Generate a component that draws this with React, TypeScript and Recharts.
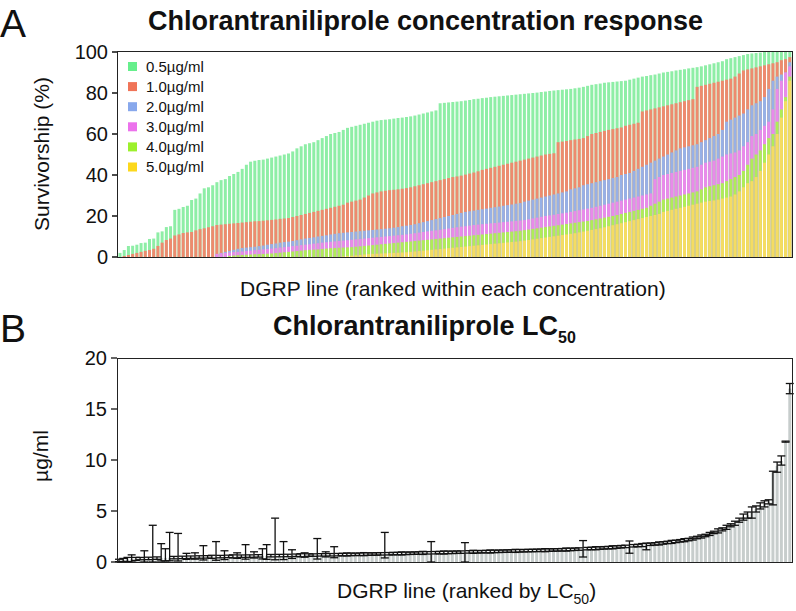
import React from 'react';
import { BarChart, Bar, XAxis, YAxis, ErrorBar } from 'recharts';

const FONT = '"Liberation Sans", Arial, Helvetica, sans-serif';

// DGRP lines, ranked 1..160
const lineRank = Array.from({ length: 160 }, (_, i) => i + 1);

// Panel A: survivorship (%) per concentration, each ranked on its own
const conc05 = [
  2, 3.4, 5.4, 5.5, 6, 6.8, 7, 8.8, 9, 12,
  12.5, 14.6, 15, 23, 23.5, 24.4, 25, 27.8, 28.5, 31,
  33.5, 34, 35, 36.5, 37.5, 38, 39.5, 40.5, 41.5, 43,
  45, 46.5, 47, 47.3, 47.5, 48, 48.5, 49, 49.5, 50,
  50.5, 51.5, 53, 54, 55, 55.5, 56, 57, 58, 59,
  60, 60.5, 61, 62, 63, 63.5, 64, 64.5, 65, 65.5,
  66, 66.5, 66.8, 67, 67.2, 67.5, 67.8, 68, 68.3, 68.6,
  69, 69.5, 70, 70.5, 71, 71.5, 75, 75.2, 75.4, 75.6,
  75.8, 76, 76.3, 76.6, 77, 77.2, 77.5, 77.7, 78, 78.2,
  78.4, 78.6, 78.8, 79, 79.2, 79.4, 79.6, 79.8, 80, 80.2,
  80.5, 80.7, 81, 81.2, 81.4, 81.6, 81.8, 82, 82.3, 82.6,
  83, 83.5, 84, 84.3, 84.6, 85, 85.2, 85.4, 85.6, 85.8,
  86, 86.5, 87, 87.5, 88, 88.3, 88.7, 89, 89.5, 90,
  90.3, 90.6, 91, 91.3, 91.6, 92, 92.3, 92.6, 93, 93.5,
  94, 94.5, 95, 95.5, 96.5, 97, 97.5, 98, 98.5, 99,
  99.3, 99.5, 99.7, 100, 100, 100, 100, 100, 100, 100,
];
const conc10 = [
  0, 0.5, 1, 1.5, 2, 2.5, 3, 3.4, 4, 5.4,
  7, 8.3, 9, 10.5, 11, 11.7, 12, 12.2, 13, 13.6,
  14, 14.5, 15, 15.6, 15.8, 16, 16.2, 16.4, 16.6, 16.8,
  17, 17.2, 17.4, 17.5, 17.7, 17.9, 18.1, 18.3, 18.6, 18.8,
  19, 19.5, 20, 20.5, 21, 21.5, 22, 22.5, 23, 23.5,
  24, 24.5, 25, 25.5, 26.5, 27, 27.5, 28, 29, 30,
  31, 31.5, 32, 32.3, 32.6, 32.8, 33, 33.3, 33.6, 34,
  34.5, 35, 35.5, 36, 36.5, 37, 37.5, 38, 38.5, 39,
  39.3, 39.7, 40.2, 40.7, 41.2, 41.8, 42.5, 43, 43.5, 44,
  44.5, 45, 45.5, 46, 46.5, 47, 47.5, 48, 48.5, 49,
  49.5, 50, 50.3, 50.6, 56, 56.3, 56.6, 57, 57.3, 57.6,
  58, 59, 60, 60.5, 61, 61.5, 62, 62.4, 62.8, 63.2,
  64, 64.5, 65, 65.5, 71, 71.5, 72, 72.5, 73, 73.5,
  74, 74.5, 75, 75.5, 76, 76.5, 77, 83, 83.5, 84,
  84.5, 85, 85.5, 86, 86.5, 87, 88, 89.5, 91, 91.5,
  92, 92.5, 93, 93.5, 94, 94.5, 95, 96, 96.5, 97.5,
];
const conc20 = [
  0, 0, 0, 0, 0, 0, 0, 0, 0, 0,
  0, 0, 0, 0, 0, 0, 0, 0, 0, 0,
  0, 0, 0, 1.5, 2, 2.5, 3, 3.5, 4, 4.4,
  4.6, 4.8, 5, 5.3, 5.6, 6, 6.3, 6.6, 7, 7.3,
  7.5, 7.8, 8.2, 8.6, 9, 9.3, 9.6, 10, 10.3, 10.6,
  11, 11.3, 11.6, 11.8, 12, 12.2, 12.4, 12.6, 12.8, 13,
  13.2, 13.4, 13.6, 13.8, 14, 14.3, 14.6, 15, 15.3, 15.6,
  16, 16.5, 17, 17.5, 18, 18.5, 19, 19.5, 20, 20.5,
  21, 21.5, 22, 22.3, 22.6, 23, 23.3, 23.6, 24, 24.3,
  24.6, 25, 25.3, 25.6, 26, 26.3, 27, 27.5, 28, 28.5,
  29, 29.5, 30, 30.5, 31, 31.5, 32, 33, 33.5, 34,
  35, 35.5, 36, 36.5, 37, 37.5, 38, 38.5, 39, 40,
  40.5, 41, 42, 43, 44, 45, 46, 47, 48, 49,
  50, 51, 52, 53, 53.5, 54, 54.5, 55, 56, 57,
  58, 59, 60, 62, 66, 67, 68, 69, 70, 72,
  74, 75, 76, 78, 82, 86, 88, 89, 90, 95,
];
const conc30 = [
  0, 0, 0, 0, 0, 0, 0, 0, 0, 0,
  0, 0, 0, 0, 0, 0, 0, 0, 0, 0,
  0, 0, 0, 1.5, 1.8, 2, 2.2, 2.4, 2.5, 2.7,
  2.9, 3.1, 3.3, 3.5, 3.7, 3.9, 4.1, 4.3, 4.6, 4.8,
  5, 5.3, 5.5, 5.8, 6, 6.2, 6.5, 6.7, 7, 7.2,
  7.4, 7.6, 7.8, 8, 8.2, 8.4, 8.6, 8.8, 9, 9.2,
  9.4, 9.6, 9.8, 10, 10.2, 10.4, 10.6, 10.8, 11, 11.3,
  11.6, 11.9, 12.2, 12.5, 12.8, 13, 13.3, 13.6, 13.9, 14.2,
  14.5, 14.8, 15, 15.3, 15.6, 15.8, 16, 16.2, 16.4, 16.6,
  16.8, 17, 17.2, 17.4, 17.6, 17.8, 18, 18.4, 18.8, 19.2,
  19.6, 20, 20.3, 20.6, 21, 21.3, 21.6, 22, 22.4, 22.8,
  23.2, 23.6, 24, 24.5, 25, 25.5, 26, 26.5, 27, 27.5,
  28, 28.5, 29, 29.5, 30, 30.5, 31, 38, 39, 40,
  40.5, 41, 41.5, 42, 42.5, 43, 43.5, 44, 45, 46,
  46.5, 47, 48, 49, 50, 50.5, 51, 52, 54, 56,
  59, 60, 62, 64, 66, 72, 82, 86, 90, 93,
];
const conc40 = [
  0, 0, 0, 0, 0, 0, 0, 0, 0, 0,
  0, 0, 0, 0, 0, 0, 0, 0, 0, 0,
  0, 0, 0, 0, 0, 0, 0.5, 0.7, 0.9, 1,
  1.1, 1.2, 1.3, 1.4, 1.5, 1.6, 1.7, 1.9, 2.1, 2.3,
  2.5, 2.7, 2.9, 3.1, 3.3, 3.5, 3.6, 3.7, 3.9, 4.1,
  4.3, 4.4, 4.5, 4.6, 4.7, 4.8, 5, 5.2, 5.4, 5.6,
  5.8, 6, 6.2, 6.4, 6.6, 6.8, 7, 7.2, 7.4, 7.6,
  7.8, 8, 8.2, 8.4, 8.6, 8.8, 9, 9.2, 9.4, 9.6,
  9.8, 10, 10.2, 10.4, 10.6, 10.8, 11, 11.2, 11.4, 11.6,
  11.8, 12, 12.2, 12.4, 12.6, 12.8, 13.1, 13.4, 13.7, 14,
  14.3, 14.6, 14.9, 15.2, 15.5, 15.8, 16.1, 16.4, 16.7, 17,
  17.3, 17.6, 18, 18.4, 18.8, 19.2, 19.6, 20, 20.5, 21,
  21.5, 22, 22.5, 23, 23.5, 24, 25, 26, 27, 28,
  28.5, 29, 29.5, 30, 30.5, 31, 31.5, 32, 33, 34,
  34.5, 35, 35.5, 36, 37, 38, 39, 40, 42, 45,
  48, 50, 52, 55, 58, 60, 66, 72, 78, 88,
];
const conc50 = [
  0, 0, 0, 0, 0, 0, 0, 0, 0, 0,
  0, 0, 0, 0, 0, 0, 0, 0, 0, 0,
  0, 0, 0, 0, 0, 0, 0, 0, 0, 0,
  0, 0, 0, 0, 0, 0, 0, 0, 0, 0,
  0, 0, 0, 0, 0, 0, 0, 0, 0, 0,
  0, 0, 0, 0.3, 0.5, 0.6, 0.8, 1, 1.2, 1.4,
  1.5, 1.6, 1.7, 1.8, 1.9, 2, 2.1, 2.2, 2.3, 2.5,
  2.7, 2.9, 3.1, 3.3, 3.5, 3.7, 3.9, 4.1, 4.3, 4.5,
  4.7, 4.9, 5.1, 5.3, 5.5, 5.7, 5.9, 6.1, 6.3, 6.5,
  6.7, 6.9, 7.1, 7.3, 7.5, 7.7, 8, 8.3, 8.6, 8.9,
  9.2, 9.5, 9.8, 10.1, 10.4, 10.7, 11, 11.3, 11.6, 12,
  12.4, 12.8, 13.2, 13.6, 14, 14.5, 15, 15.5, 16, 16.5,
  17, 17.5, 18, 18.5, 19, 19.5, 20, 20.5, 21, 22,
  22.5, 23, 23.5, 24, 24.5, 25, 25.5, 26, 26.5, 27,
  27.3, 27.6, 28, 28.5, 29, 29.5, 30.5, 32, 34, 36,
  37, 39, 42, 46, 50, 54, 60, 68, 76, 86,
];

// Panel B: LC50 (µg/ml) with lower / upper error
const lc50 = [
  0.15, 0.2, 0.25, 0.3, 0.3, 0.32, 0.35, 0.35, 0.38, 0.38,
  0.4, 0.4, 0.42, 0.43, 0.45, 0.45, 0.46, 0.47, 0.48, 0.49,
  0.5, 0.5, 0.51, 0.52, 0.53, 0.54, 0.55, 0.55, 0.56, 0.57,
  0.58, 0.58, 0.59, 0.6, 0.6, 0.61, 0.62, 0.62, 0.63, 0.64,
  0.64, 0.65, 0.66, 0.66, 0.67, 0.68, 0.68, 0.69, 0.7, 0.7,
  0.71, 0.72, 0.72, 0.73, 0.74, 0.75, 0.75, 0.76, 0.77, 0.78,
  0.78, 0.79, 0.8, 0.8, 0.81, 0.82, 0.83, 0.84, 0.85, 0.86,
  0.87, 0.88, 0.89, 0.9, 0.9, 0.91, 0.92, 0.93, 0.94, 0.95,
  0.96, 0.97, 0.98, 0.99, 1.0, 1.0, 1.01, 1.02, 1.03, 1.04,
  1.05, 1.06, 1.07, 1.08, 1.09, 1.1, 1.11, 1.12, 1.13, 1.14,
  1.15, 1.16, 1.17, 1.18, 1.19, 1.2, 1.22, 1.23, 1.25, 1.27,
  1.29, 1.31, 1.33, 1.35, 1.37, 1.39, 1.41, 1.44, 1.47, 1.5,
  1.53, 1.56, 1.59, 1.62, 1.66, 1.7, 1.74, 1.78, 1.82, 1.87,
  1.92, 1.97, 2.02, 2.08, 2.14, 2.2, 2.3, 2.4, 2.5, 2.6,
  2.75, 2.9, 3.05, 3.2, 3.4, 3.6, 3.8, 4.1, 4.4, 4.6,
  4.9, 5.2, 5.5, 5.7, 5.9, 8.8, 9.4, 9.9, 11.8, 17.0,
];
const lcErrLow = [
  0.12, 0.15, 0.2, 0.3, 0.15, 0.1, 0.35, 0.12, 0.38, 0.12,
  0.3, 0.3, 0.3, 0.12, 0.35, 0.12, 0.2, 0.12, 0.2, 0.12,
  0.3, 0.12, 0.15, 0.35, 0.12, 0.3, 0.12, 0.15, 0.2, 0.12,
  0.3, 0.12, 0.2, 0.12, 0.3, 0.35, 0.12, 0.4, 0.12, 0.4,
  0.12, 0.3, 0.12, 0.15, 0.2, 0.12, 0.12, 0.4, 0.12, 0.2,
  0.12, 0.3, 0.12, 0.12, 0.15, 0.12, 0.12, 0.12, 0.15, 0.12,
  0.12, 0.12, 0.12, 0.4, 0.12, 0.12, 0.12, 0.15, 0.12, 0.12,
  0.12, 0.12, 0.15, 0.12, 0.9, 0.12, 0.12, 0.15, 0.12, 0.12,
  0.12, 0.12, 0.98, 0.12, 0.15, 0.12, 0.12, 0.12, 0.15, 0.12,
  0.12, 0.12, 0.12, 0.12, 0.15, 0.12, 0.12, 0.12, 0.12, 0.12,
  0.12, 0.15, 0.12, 0.12, 0.12, 0.12, 0.15, 0.12, 0.12, 0.12,
  0.8, 0.12, 0.12, 0.15, 0.12, 0.12, 0.12, 0.15, 0.12, 0.12,
  0.12, 0.7, 0.12, 0.12, 0.15, 0.5, 0.12, 0.12, 0.15, 0.12,
  0.12, 0.15, 0.12, 0.12, 0.15, 0.12, 0.15, 0.12, 0.15, 0.12,
  0.15, 0.12, 0.2, 0.15, 0.2, 0.15, 0.2, 0.2, 0.3, 0.3,
  0.6, 0.3, 0.3, 0.3, 0.2, 3.2, 0.6, 0.4, 0.05, 0.5,
];
const lcErrHigh = [
  0.12, 0.15, 0.2, 0.4, 0.15, 0.13, 0.75, 0.12, 3.22, 0.12,
  1.4, 0.9, 2.48, 0.12, 2.35, 0.12, 0.39, 0.12, 0.42, 0.12,
  1.1, 0.12, 0.15, 1.48, 0.12, 0.56, 0.12, 0.15, 0.34, 0.12,
  1.12, 0.12, 0.41, 0.12, 0.7, 1.09, 0.12, 3.68, 0.12, 1.36,
  0.12, 0.55, 0.12, 0.15, 0.23, 0.12, 0.12, 1.61, 0.12, 0.3,
  0.12, 0.78, 0.12, 0.12, 0.15, 0.12, 0.12, 0.12, 0.15, 0.12,
  0.12, 0.12, 0.12, 2.1, 0.12, 0.12, 0.12, 0.15, 0.12, 0.12,
  0.12, 0.12, 0.15, 0.12, 1.1, 0.12, 0.12, 0.15, 0.12, 0.12,
  0.12, 0.12, 0.92, 0.12, 0.15, 0.12, 0.12, 0.12, 0.15, 0.12,
  0.12, 0.12, 0.12, 0.12, 0.15, 0.12, 0.12, 0.12, 0.12, 0.12,
  0.12, 0.15, 0.12, 0.12, 0.12, 0.12, 0.15, 0.12, 0.12, 0.12,
  0.81, 0.12, 0.12, 0.15, 0.12, 0.12, 0.12, 0.15, 0.12, 0.12,
  0.12, 0.5, 0.12, 0.12, 0.15, 0.15, 0.12, 0.12, 0.15, 0.12,
  0.12, 0.15, 0.12, 0.12, 0.15, 0.12, 0.15, 0.12, 0.15, 0.12,
  0.15, 0.12, 0.2, 0.15, 0.2, 0.15, 0.2, 0.2, 0.3, 0.3,
  0.5, 0.3, 0.3, 0.3, 0.2, 0.1, 0.4, 0.5, 0.05, 0.5,
];

const series = [
  { key: 'c05', label: '0.5µg/ml', values: conc05, fill: '#8eeea6', swatch: '#66ef8c' },
  { key: 'c10', label: '1.0µg/ml', values: conc10, fill: '#ee8a6e', swatch: '#f07458' },
  { key: 'c20', label: '2.0µg/ml', values: conc20, fill: '#97b0e6', swatch: '#88a8ec' },
  { key: 'c30', label: '3.0µg/ml', values: conc30, fill: '#e98aea', swatch: '#ec72ec' },
  { key: 'c40', label: '4.0µg/ml', values: conc40, fill: '#aeed58', swatch: '#9cf02c' },
  { key: 'c50', label: '5.0µg/ml', values: conc50, fill: '#f5dc62', swatch: '#fcd81c' },
];

const surviveData = lineRank.map((line, i) => {
  const row: Record<string, number> = { line };
  series.forEach((s) => {
    row[s.key] = s.values[i];
  });
  return row;
});

const lcData = lineRank.map((line, i) => ({
  line,
  lc50: lc50[i],
  err: [lcErrLow[i], lcErrHigh[i]],
}));

const tickStyle = { fontSize: 20, fill: '#111', fontFamily: FONT };

export default function App() {
  return (
    <div style={{ position: 'absolute', left: 0, top: 0, width: 796, height: 611, background: '#fff', fontFamily: FONT }}>
      {/* Panel A */}
      <div style={{ position: 'absolute', left: 0, top: 0 }}>
        <BarChart
          width={796}
          height={270}
          data={surviveData}
          margin={{ top: 52, right: 4, left: 58, bottom: 13 }}
          barCategoryGap="12%"
        >
          {series.map((s) => (
            <XAxis key={s.key} xAxisId={s.key} dataKey="line" type="category" hide />
          ))}
          <YAxis
            width={60}
            domain={[0, 100]}
            ticks={[0, 20, 40, 60, 80, 100]}
            interval={0}
            axisLine={false}
            tickLine={{ stroke: '#111', strokeWidth: 1.5 }}
            tickSize={6}
            tickMargin={4}
            tick={tickStyle}
          />
          {series.map((s) => (
            <Bar key={s.key} xAxisId={s.key} dataKey={s.key} fill={s.fill} isAnimationActive={false} />
          ))}
        </BarChart>
      </div>
      <div
        style={{
          position: 'absolute',
          left: 117,
          top: 51,
          width: 676,
          height: 207,
          border: '1.5px solid #222',
          boxSizing: 'border-box',
          pointerEvents: 'none',
        }}
      />

      {/* Panel B */}
      <div style={{ position: 'absolute', left: 0, top: 300 }}>
        <BarChart
          width={796}
          height={290}
          data={lcData}
          margin={{ top: 58, right: 4, left: 57, bottom: 28 }}
          barCategoryGap="12%"
        >
          <XAxis dataKey="line" type="category" hide />
          <YAxis
            width={60}
            domain={[0, 20]}
            ticks={[0, 5, 10, 15, 20]}
            interval={0}
            axisLine={false}
            tickLine={{ stroke: '#111', strokeWidth: 1.3 }}
            tickSize={6}
            tickMargin={4}
            tick={tickStyle}
          />
          <Bar dataKey="lc50" fill="#c7cdcc" isAnimationActive={false}>
            <ErrorBar dataKey="err" direction="y" width={4} stroke="#111" strokeWidth={1.3} />
          </Bar>
        </BarChart>
      </div>
      <div
        style={{
          position: 'absolute',
          left: 116.5,
          top: 357.5,
          width: 676,
          height: 205,
          border: '1.2px solid #222',
          boxSizing: 'border-box',
          pointerEvents: 'none',
        }}
      />

      {/* Text and legend */}
      <svg width={796} height={611} style={{ position: 'absolute', left: 0, top: 0, pointerEvents: 'none' }} fontFamily={FONT}>
        <text x={0} y={37} fontSize={39} fill="#111">A</text>
        <text x={0} y={342} fontSize={39} fill="#111">B</text>
        <text x={148} y={30} fontSize={27} fontWeight="bold" fill="#111">
          Chlorantraniliprole concentration response
        </text>
        <text x={273} y={335} fontSize={27} fontWeight="bold" fill="#111">
          Chlorantraniliprole LC
          <tspan fontSize={16} dy={8}>50</tspan>
        </text>
        <text transform="translate(49,154) rotate(-90)" textAnchor="middle" fontSize={21} fill="#111">
          Survivorship (%)
        </text>
        <text transform="translate(48,456) rotate(-90)" textAnchor="middle" fontSize={21} fill="#111">
          µg/ml
        </text>
        <text x={240} y={296} fontSize={21} fill="#111">
          DGRP line (ranked within each concentration)
        </text>
        <text x={337} y={598} fontSize={21} fill="#111">
          DGRP line (ranked by LC
          <tspan fontSize={14} dy={6}>50</tspan>
          <tspan dy={-6}>)</tspan>
        </text>
        {series.map((s, i) => (
          <g key={s.key}>
            <rect x={128} y={62 + i * 20.1} width={9} height={9} fill={s.swatch} />
            <text x={146} y={71.5 + i * 20.1} fontSize={15} fill="#111">
              {s.label}
            </text>
          </g>
        ))}
      </svg>
    </div>
  );
}
